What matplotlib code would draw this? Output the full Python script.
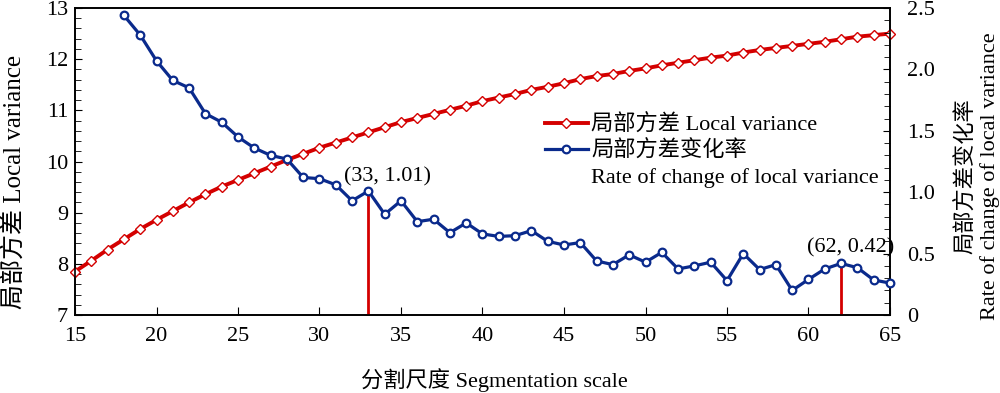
import matplotlib
matplotlib.use("Agg")
import matplotlib.pyplot as plt
from matplotlib.lines import Line2D
from matplotlib.ticker import MultipleLocator, FuncFormatter

plt.rcParams['font.family'] = ['Liberation Serif', 'Noto Sans CJK SC']
plt.rcParams['axes.unicode_minus'] = False

scale = list(range(15, 66))
local_variance = [7.85, 8.06, 8.28, 8.48, 8.68, 8.86, 9.03, 9.20, 9.36, 9.51,
                  9.64, 9.77, 9.90, 10.03, 10.15, 10.27, 10.37, 10.47, 10.57, 10.67,
                  10.77, 10.85, 10.93, 11.01, 11.09, 11.18, 11.25, 11.32, 11.40, 11.46,
                  11.53, 11.61, 11.67, 11.71, 11.77, 11.82, 11.88, 11.93, 11.98, 12.03,
                  12.07, 12.13, 12.18, 12.22, 12.26, 12.30, 12.34, 12.39, 12.44, 12.47,
                  12.50]

rate_scale = list(range(18, 66))
rate_change = [2.44, 2.28, 2.07, 1.91, 1.85, 1.64, 1.57, 1.45, 1.36, 1.30,
               1.27, 1.12, 1.11, 1.06, 0.93, 1.01, 0.82, 0.93, 0.76, 0.78,
               0.67, 0.75, 0.66, 0.64, 0.646, 0.687, 0.60, 0.57, 0.59, 0.44,
               0.41, 0.49, 0.43, 0.51, 0.375, 0.40, 0.43, 0.28, 0.50, 0.37,
               0.41, 0.20, 0.29, 0.375, 0.42, 0.385, 0.285, 0.26]

peak_x = [33, 62]
peak_y = [1.01, 0.42]
peak_labels = ['(33, 1.01)', '(62, 0.42)']

red = '#d40000'
blue = '#0a2a8c'

fig = plt.figure(figsize=(10, 3.93), dpi=100)
ax = fig.add_axes([0.075, 0.1985, 0.815, 0.7811])
ax2 = ax.twinx()

ax.plot(scale, local_variance, color=red, lw=2.8, marker='D', ms=5,
        mfc='white', mec=red, mew=1.0, zorder=3, clip_on=False)
ax2.vlines(peak_x, 0, peak_y, color=red, lw=2, zorder=1)
ax2.plot(rate_scale, rate_change, color=blue, lw=2.3, marker='o', ms=5.5,
         mfc='white', mec=blue, mew=1.6, zorder=3, clip_on=False)

ax.set_xlim(15, 65)
ax.set_ylim(7, 13)
ax2.set_ylim(0, 2.5)

ax.xaxis.set_major_locator(MultipleLocator(5))
ax.yaxis.set_major_locator(MultipleLocator(1))
ax.yaxis.set_minor_locator(MultipleLocator(0.2))
ax2.yaxis.set_major_locator(MultipleLocator(0.5))
ax2.yaxis.set_minor_locator(MultipleLocator(0.1))
ax2.yaxis.set_major_formatter(FuncFormatter(lambda v, p: '0' if abs(v) < 1e-9 else f'{v:.1f}'))

fs = 16
ax.tick_params(axis='x', which='both', direction='in', length=6, labelsize=fs, top=False, pad=9)
ax.tick_params(axis='y', which='major', direction='in', length=5, labelsize=fs, pad=5)
ax.tick_params(axis='y', which='minor', direction='in', length=4)
ax2.tick_params(axis='y', which='major', direction='in', length=5, labelsize=fs, pad=12)
ax2.tick_params(axis='y', which='minor', direction='in', length=4)
for a in (ax, ax2):
    for s in a.spines.values():
        s.set_linewidth(1.2)

ax.set_xlabel('分割尺度 Segmentation scale', fontsize=16)
ax.xaxis.set_label_coords(0.515, -0.172)
ax.set_ylabel('局部方差 Local variance', fontsize=18)
ax.yaxis.set_label_coords(-0.06, 0.433)
ax2.set_ylabel('局部方差变化率\nRate of change of local variance', fontsize=16,
               linespacing=1.17)
ax2.yaxis.set_label_coords(1.081, 0.453)

ax2.annotate(peak_labels[0], xy=(peak_x[0], peak_y[0]), xytext=(14, 3),
             textcoords='offset points', ha='center', va='bottom', fontsize=16)
ax2.annotate(peak_labels[1], xy=(peak_x[1], peak_y[1]), xytext=(7, 4),
             textcoords='offset points', ha='center', va='bottom', fontsize=16)

handles = [
    Line2D([], [], color=red, lw=2.8, marker='D', ms=5, mfc='white', mec=red),
    Line2D([], [], color=blue, lw=2.3, marker='o', ms=5.5, mfc='white', mec=blue, mew=1.6),
    Line2D([], [], color='none'),
]
labels = ['局部方差 Local variance', '局部方差变化率', 'Rate of change of local variance']
ax2.legend(handles, labels, loc='upper left', bbox_to_anchor=(0.557, 0.705),
           frameon=False, fontsize=16, handlelength=1.95, handletextpad=0.15,
           labelspacing=0.25, borderpad=0.2)

fig.savefig('out.png', dpi=100)
